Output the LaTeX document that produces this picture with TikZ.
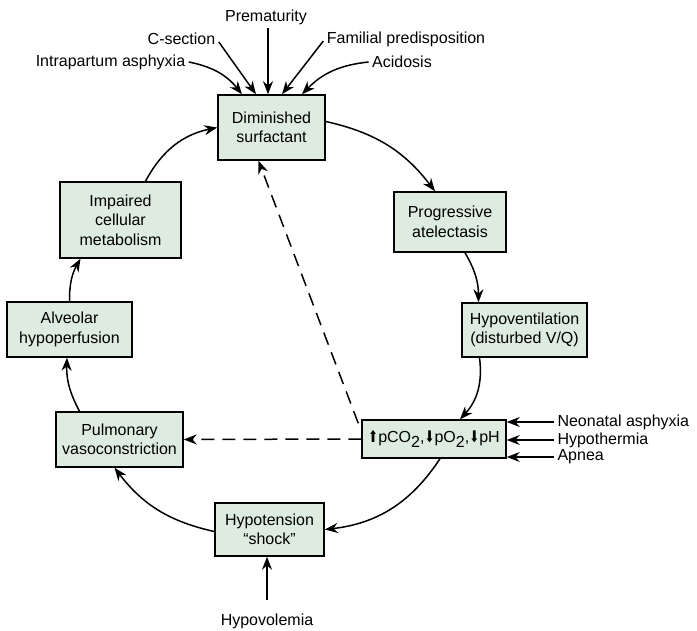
\documentclass[tikz,border=0pt]{standalone}
\usepackage{fontspec}
\setmainfont{Liberation Sans}
\newfontfamily\arrowfont{DejaVu Sans}
\usetikzlibrary{arrows.meta}
\definecolor{boxfill}{RGB}{221,235,224}
\newcommand{\uparr}{\scalebox{0.75}[1]{\arrowfont ⬆}}
\newcommand{\dnarr}{\scalebox{0.75}[1]{\arrowfont ⬇}}
\newcommand{\lowtwo}{\raisebox{-0.3em}{2}}
\begin{document}
\begin{tikzpicture}[x=1pt,y=-1pt,
  every node/.style={font=\fontsize{16}{19.5}\selectfont},
  stagebox/.style={draw,line width=1.5pt,fill=boxfill,align=center,inner sep=0pt},
  arr/.style={line width=1.5pt,-{Stealth[length=13pt,width=10pt]}},
  dasharr/.style={arr,dash pattern=on 13pt off 8pt}]
  \useasboundingbox (0,0) rectangle (697,631);
  % stages of the cycle
  \node[stagebox,minimum width=107pt,minimum height=65pt] (dim) at (271.5,127.5) {Diminished\\surfactant};
  \node[stagebox,minimum width=112pt,minimum height=60pt] (prog) at (450,222) {Progressive\\atelectasis};
  \node[stagebox,minimum width=125pt,minimum height=54pt] (hypo) at (524.5,330) {Hypoventilation\\(disturbed V/Q)};
  \node[stagebox,minimum width=144pt,minimum height=38pt] (gas) at (434,439)
    {\uparr pCO\lowtwo,\dnarr pO\lowtwo,\dnarr pH};
  \node[stagebox,minimum width=109pt,minimum height=53pt] (hyt) at (269.5,529.5) {Hypotension\\“shock”};
  \node[stagebox,minimum width=127pt,minimum height=55pt] (pul) at (119.5,439.5) {Pulmonary\\vasoconstriction};
  \node[stagebox,minimum width=125pt,minimum height=55pt] (alv) at (69.5,329.5) {Alveolar\\hypoperfusion};
  \node[stagebox,minimum width=121pt,minimum height=76pt] (imp) at (120.5,220) {Impaired\\cellular\\metabolism};
  % causes
  \node (prem) at (266,17) {Prematurity};
  \node (csec) at (181.5,39) {C-section};
  \node (fam) at (406,39) {Familial predisposition};
  \node (intra) at (110.5,62) {Intrapartum asphyxia};
  \node (acid) at (402,62) {Acidosis};
  \node[anchor=west] (neo) at (554,422) {Neonatal asphyxia};
  \node[anchor=west] (therm) at (554,440) {Hypothermia};
  \node[anchor=west] (apn) at (554,457) {Apnea};
  \node (hvol) at (267,621) {Hypovolemia};
  % cycle arrows
  \draw[arr] ([yshift=6pt]dim.east) to[bend left=20] ([xshift=-15pt]prog.north);
  \draw[arr] ([xshift=15pt]prog.south) to[bend left=15] ([xshift=-46pt]hypo.north);
  \draw[arr] ([xshift=-45pt]hypo.south) to[bend left=25] ([xshift=26pt]gas.north);
  \draw[arr] ([xshift=6pt]gas.south) to[bend left=25] (hyt.east);
  \draw[arr] ([yshift=-2pt]hyt.west) to[bend left=20] ([xshift=-5pt]pul.south);
  \draw[arr] ([xshift=-40pt]pul.north) to[bend left=15] ([xshift=-2.5pt]alv.south);
  \draw[arr] (alv.north) to[bend left=15] ([xshift=-40pt]imp.south);
  \draw[arr] ([xshift=25pt]imp.north) to[bend left=25] (dim.west);
  % feedback
  \draw[dasharr] ([xshift=-3pt,yshift=-4pt]gas.north west) -- ([xshift=-13pt]dim.south);
  \draw[dasharr] (gas.west) -- (pul.east);
  % inputs
  \draw[arr] ([xshift=2pt]prem.south) -- ([xshift=-3.5pt]dim.north);
  \draw[arr] ([yshift=-3pt]csec.east) -- ([xshift=-15.5pt]dim.north);
  \draw[arr] ([yshift=-2pt]fam.west) -- ([xshift=10.5pt]dim.north);
  \draw[arr] (intra.east) to[bend left=20] ([xshift=-29.5pt]dim.north);
  \draw[arr] (acid.west) to[bend right=20] ([xshift=30.5pt]dim.north);
  \draw[arr] (neo.west) -- (neo.west -| gas.east);
  \draw[arr] (therm.west) -- (therm.west -| gas.east);
  \draw[arr] (apn.west) -- (apn.west -| gas.east);
  \draw[arr] ([yshift=10pt]hvol.north) -- ([xshift=-2.5pt]hyt.south);
\end{tikzpicture}
\end{document}
